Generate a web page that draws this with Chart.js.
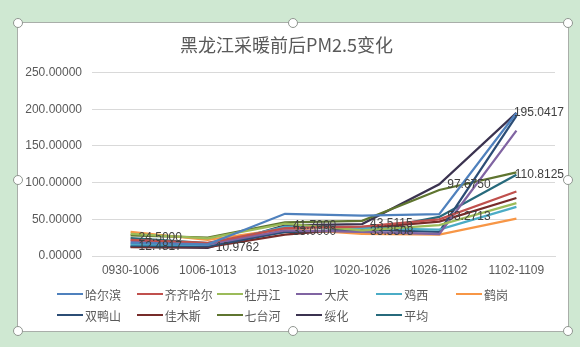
<!DOCTYPE html>
<html><head><meta charset="utf-8">
<script src="https://cdn.jsdelivr.net/npm/chart.js@4/dist/chart.umd.min.js"></script>
<style>
html,body{margin:0;padding:0;width:580px;height:347px;overflow:hidden;background:#cfe8d2;}
#box{position:absolute;left:18px;top:23px;width:550px;height:308px;background:#fff;outline:1px solid #a9aea9;}
#c{position:absolute;left:0;top:0;}
.h{position:absolute;width:10px;height:10px;border-radius:50%;background:#fff;border:1.5px solid #8f958f;box-sizing:border-box;}
.li{position:absolute;height:14px;display:flex;align-items:center;font:12px "Noto Sans CJK SC","Noto Sans",sans-serif;color:#595959;white-space:nowrap;}
.li .sw{display:inline-block;width:26px;height:2.5px;margin-right:2px;}
</style>
</head><body>
<div id="box"><canvas id="c" width="550" height="308"></canvas></div>
<div id="legend"></div>
<div id="handles"></div>
<script>
const categories = ["0930-1006","1006-1013","1013-1020","1020-1026","1026-1102","1102-1109"];
const seriesNames = ["哈尔滨","齐齐哈尔","牡丹江","大庆","鸡西","鹤岗","双鸭山","佳木斯","七台河","绥化","平均"];
const harbin      = [18, 16, 57.5, 55, 57, 195];
const qiqihar     = [22, 18, 38, 40, 50, 88];
const mudanjiang  = [30, 24, 44, 35, 42, 72];
const daqing      = [20, 16, 35, 33, 30, 171];
const jixi        = [16, 15, 40, 38, 36, 67];
const hegang      = [33, 22, 37, 30, 29, 51];
const shuangyashan= [14, 13, 33, 36, 33, 191];
const jiamusi     = [12, 12, 29, 38, 47, 79];
const qitaihe     = [28, 25, 46, 48, 90, 114];
const suihua      = [12.4817, 10.9762, 41.7000, 43.5115, 97.6750, 195.0417];
const average     = [24.5000, 17.5, 33.0000, 33.3508, 53.2713, 110.8125];
const yTicks = [0, 50, 100, 150, 200, 250];

const seriesValues = [harbin,qiqihar,mudanjiang,daqing,jixi,hegang,shuangyashan,jiamusi,qitaihe,suihua,average];
const seriesColors = ["#4F81BD","#C0504D","#9BBB59","#8064A2","#4BACC6","#F79646","#2C4D75","#772C2A","#5F7530","#3B3350","#276A7C"];
// labelled points: [series index, category index]
const labelled = [[9,0],[9,1],[9,2],[9,3],[9,4],[9,5],[10,0],[10,2],[10,3],[10,4],[10,5]];

const labelPlugin = {
  id:'pointLabels',
  afterDatasetsDraw(chart){
    const ctx = chart.ctx;
    ctx.save();
    ctx.font = '12px "Liberation Sans", Arial, sans-serif';
    ctx.fillStyle = '#404040';
    ctx.textBaseline = 'middle';
    labelled.forEach(([di, idx])=>{
      const pt = chart.getDatasetMeta(di).data[idx];
      const txt = chart.data.datasets[di].data[idx].toFixed(4);
      const w = ctx.measureText(txt).width;
      let x = pt.x + 8;
      if (x + w > chart.width - 4) x = chart.width - 4 - w;
      ctx.fillText(txt, x, pt.y);
    });
    ctx.restore();
  }
};

const chart = new Chart(document.getElementById('c'), {
  type:'line',
  data:{
    labels: categories,
    datasets: seriesNames.map((n,i)=>({
      label:n, data:seriesValues[i], borderColor:seriesColors[i], backgroundColor:seriesColors[i],
      borderWidth:2.25, pointRadius:0, tension:0, fill:false
    }))
  },
  options:{
    responsive:false, animation:false,
    layout:{padding:{left:0,right:13,top:0,bottom:51}},
    plugins:{
      legend:{display:false},
      tooltip:{enabled:false},
      title:{display:true, text:'黑龙江采暖前后PM2.5变化', color:'#595959',
        font:{family:'"Noto Sans CJK SC"', size:18, weight:'normal'}, padding:{top:11,bottom:17}}
    },
    scales:{
      x:{
        offset:true,
        grid:{display:false, drawTicks:false},
        border:{display:true,color:'#d9d9d9'},
        ticks:{color:'#595959', font:{family:'"Liberation Sans", Arial', size:12}, padding:7, maxRotation:0, autoSkip:false},
        afterFit(s){ s.height = 24; }
      },
      y:{
        min:0, max:250,
        afterBuildTicks(s){ s.ticks = yTicks.map(v=>({value:v})); },
        grid:{color:'#d9d9d9', drawTicks:false},
        border:{display:false},
        ticks:{color:'#595959', font:{family:'"Liberation Sans", Arial', size:12}, padding:10, callback:v=>Number(v).toFixed(5)},
        afterFit(s){ s.width = 74; }
      }
    }
  },
  plugins:[labelPlugin]
});

// HTML legend built from the chart's datasets
const leg = document.getElementById('legend');
chart.data.datasets.forEach((ds,i)=>{
  const col = i % 6, row = Math.floor(i/6);
  const d = document.createElement('div');
  d.className='li';
  d.style.left = (57 + col*79.8) + 'px';
  d.style.top = (294 + row*21 - 7) + 'px';
  d.innerHTML = '<span class="sw" style="background:'+ds.borderColor+'"></span>'+ds.label;
  leg.appendChild(d);
});
// selection handles around the chart box
const hs = document.getElementById('handles');
[[18,23],[293,23],[568,23],[18,180],[568,180],[18,331],[293,331],[568,331]].forEach(([x,y])=>{
  const h=document.createElement('div'); h.className='h'; h.style.left=(x-5)+'px'; h.style.top=(y-5)+'px'; hs.appendChild(h);
});
</script>
</body></html>
